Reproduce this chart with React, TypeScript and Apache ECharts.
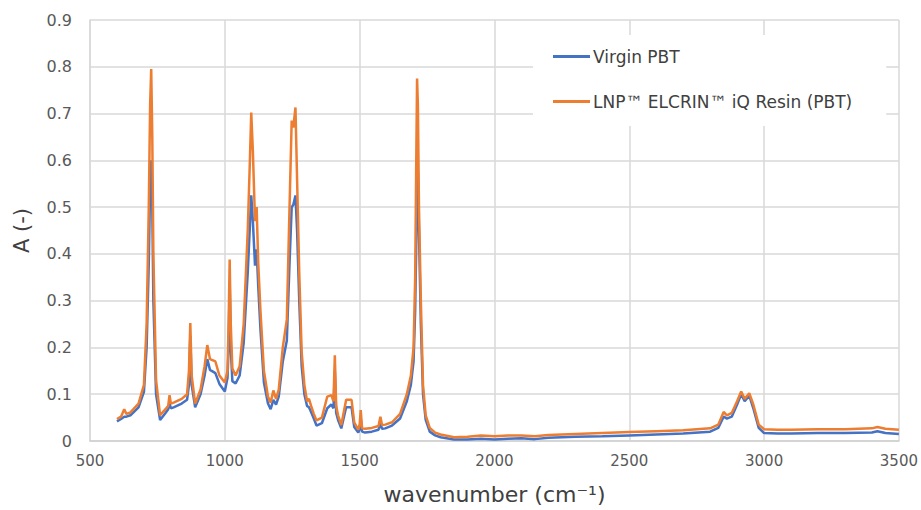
import React, { useEffect, useRef } from "react";
import * as echarts from "echarts";

const wavenumbers = [
  600, 615, 627, 635, 650, 680, 700, 710, 718, 723, 727, 731, 735, 745, 760, 780, 790, 795, 800, 810, 840, 860, 867, 872, 877, 890,
  910, 925, 935, 945, 965, 980, 1000, 1010, 1014, 1018, 1022, 1028, 1040, 1055, 1070, 1085, 1093, 1098, 1104, 1112, 1118, 1124,
  1132, 1145, 1160, 1170, 1180, 1190, 1200, 1215, 1230, 1240, 1248, 1254, 1262, 1268, 1276, 1285, 1295, 1305, 1312, 1320, 1330,
  1340, 1360, 1380, 1395, 1403, 1408, 1413, 1420, 1432, 1450, 1470, 1480, 1495, 1500, 1504, 1509, 1520, 1545, 1570, 1577, 1583,
  1595, 1620, 1650, 1675, 1690, 1700, 1706, 1710, 1713, 1716, 1720, 1727, 1735, 1745, 1760, 1780, 1800, 1850, 1900, 1950, 2000,
  2050, 2100, 2150, 2200, 2300, 2400, 2500, 2600, 2700, 2800, 2830, 2850, 2862, 2880, 2900, 2915, 2928, 2945, 2960, 2980, 3000,
  3050, 3100, 3200, 3300, 3400, 3420, 3450, 3500,
];

const virginPBT = [
  0.042, 0.047, 0.052, 0.052, 0.055, 0.072, 0.105, 0.2, 0.38, 0.55, 0.6, 0.5, 0.3, 0.1, 0.045, 0.06, 0.068, 0.08, 0.07, 0.072, 0.08, 0.088, 0.12, 0.225, 0.12, 0.072,
  0.1, 0.14, 0.175, 0.152, 0.145, 0.122, 0.106, 0.135, 0.2, 0.34, 0.2, 0.128, 0.123, 0.14, 0.21, 0.36, 0.46, 0.525, 0.47, 0.375, 0.41, 0.33,
  0.24, 0.125, 0.08, 0.068, 0.088, 0.078, 0.095, 0.17, 0.215, 0.38, 0.5, 0.505, 0.525, 0.45, 0.3, 0.16, 0.1, 0.075, 0.072, 0.062, 0.048,
  0.033, 0.038, 0.07, 0.078, 0.07, 0.15, 0.06, 0.045, 0.027, 0.072, 0.072, 0.03, 0.018, 0.025, 0.048, 0.02, 0.018, 0.02, 0.024, 0.038, 0.026,
  0.027, 0.033, 0.048, 0.085, 0.12, 0.17, 0.28, 0.42, 0.55, 0.575, 0.45, 0.25, 0.1, 0.045, 0.02, 0.012, 0.008, 0.003, 0.003, 0.005, 0.003,
  0.005, 0.006, 0.004, 0.007, 0.009, 0.01, 0.012, 0.014, 0.016, 0.02, 0.028, 0.052, 0.048, 0.052, 0.078, 0.1, 0.085, 0.097, 0.07, 0.028, 0.017,
  0.016, 0.016, 0.017, 0.017, 0.018, 0.021, 0.017, 0.015,
];

const elcrinPBT = [
  0.047, 0.052, 0.068, 0.058, 0.061, 0.08, 0.12, 0.25, 0.5, 0.72, 0.795, 0.65, 0.4, 0.13, 0.055, 0.068, 0.075, 0.098, 0.08, 0.082, 0.09, 0.1, 0.15, 0.252, 0.14, 0.08,
  0.11, 0.16, 0.205, 0.175, 0.17, 0.14, 0.125, 0.15, 0.25, 0.388, 0.25, 0.155, 0.14, 0.16, 0.25, 0.45, 0.6, 0.702, 0.62, 0.47, 0.5, 0.38,
  0.28, 0.15, 0.095, 0.082, 0.108, 0.09, 0.11, 0.2, 0.26, 0.5, 0.685, 0.67, 0.713, 0.56, 0.36, 0.19, 0.12, 0.085, 0.09, 0.075, 0.058,
  0.044, 0.05, 0.095, 0.098, 0.085, 0.183, 0.075, 0.055, 0.034, 0.088, 0.088, 0.04, 0.024, 0.035, 0.066, 0.027, 0.026, 0.028, 0.032, 0.052, 0.034,
  0.035, 0.04, 0.058, 0.1, 0.14, 0.2, 0.35, 0.6, 0.775, 0.72, 0.5, 0.3, 0.12, 0.055, 0.028, 0.018, 0.014, 0.008, 0.009, 0.012, 0.01,
  0.012, 0.012, 0.01, 0.013, 0.015, 0.017, 0.019, 0.021, 0.023, 0.027, 0.035, 0.062, 0.055, 0.06, 0.085, 0.106, 0.09, 0.102, 0.078, 0.035, 0.025,
  0.024, 0.024, 0.025, 0.025, 0.027, 0.03, 0.026, 0.024,
];

const seriesNames = ["Virgin PBT", "LNP™ ELCRIN™ iQ Resin (PBT)"];
const FONT = "'DejaVu Sans', sans-serif";

export default function App() {
  const ref = useRef<HTMLDivElement>(null);
  useEffect(() => {
    if (!ref.current) return;
    const chart = echarts.init(ref.current, undefined, { renderer: "svg" });
    const toPairs = (vals: number[]) => wavenumbers.map((w, i) => [w, vals[i]]);
    chart.setOption({
      animation: false,
      backgroundColor: "#ffffff",
      textStyle: { fontFamily: FONT },
      grid: { left: 90, right: 19, top: 20, bottom: 64, containLabel: false },
      legend: {
        data: seriesNames,
        orient: "vertical",
        left: 533,
        top: 35,
        padding: [13, 34, 16, 20],
        backgroundColor: "#ffffff",
        itemWidth: 37,
        itemHeight: 3,
        itemGap: 28,
        icon: "rect",
        textStyle: { fontFamily: FONT, fontSize: 17, color: "#404040", padding: [0, 0, 0, -2] },
      },
      xAxis: {
        type: "value",
        min: 500,
        max: 3500,
        interval: 500,
        name: "wavenumber (cm⁻¹)",
        nameLocation: "middle",
        nameGap: 42,
        nameTextStyle: { fontFamily: FONT, fontSize: 22, color: "#404040" },
        axisLine: { show: true, lineStyle: { color: "#d0d0d0", width: 1.5 } },
        axisTick: { show: false },
        axisLabel: {
          fontFamily: FONT,
          fontSize: 15,
          color: "#595959",
          margin: 12,
          formatter: (v: number) => String(v),
        },
        splitLine: { show: true, lineStyle: { color: "#d9d9d9", width: 1.5 } },
      },
      yAxis: {
        type: "value",
        min: 0,
        max: 0.9,
        interval: 0.1,
        name: "A (-)",
        nameLocation: "middle",
        nameGap: 58,
        nameTextStyle: { fontFamily: FONT, fontSize: 21, color: "#404040" },
        axisLine: { show: true, lineStyle: { color: "#d9d9d9", width: 1.5 } },
        axisTick: { show: false },
        axisLabel: {
          fontFamily: FONT,
          fontSize: 16,
          color: "#595959",
          margin: 18,
          formatter: (v: number) => (v === 0 ? "0" : v.toFixed(1)),
        },
        splitLine: { show: true, lineStyle: { color: "#d9d9d9", width: 1.5 } },
      },
      series: [
        {
          name: seriesNames[0],
          type: "line",
          data: toPairs(virginPBT),
          showSymbol: false,
          symbol: "none",
          lineStyle: { color: "#4472C4", width: 2.5 },
          itemStyle: { color: "#4472C4" },
          z: 2,
        },
        {
          name: seriesNames[1],
          type: "line",
          data: toPairs(elcrinPBT),
          showSymbol: false,
          symbol: "none",
          lineStyle: { color: "#ED7D31", width: 2.5 },
          itemStyle: { color: "#ED7D31" },
          z: 3,
        },
      ],
    });
    return () => chart.dispose();
  }, []);
  return <div ref={ref} style={{ width: 921, height: 510, position: "absolute", left: 0, top: 0 }} />;
}
